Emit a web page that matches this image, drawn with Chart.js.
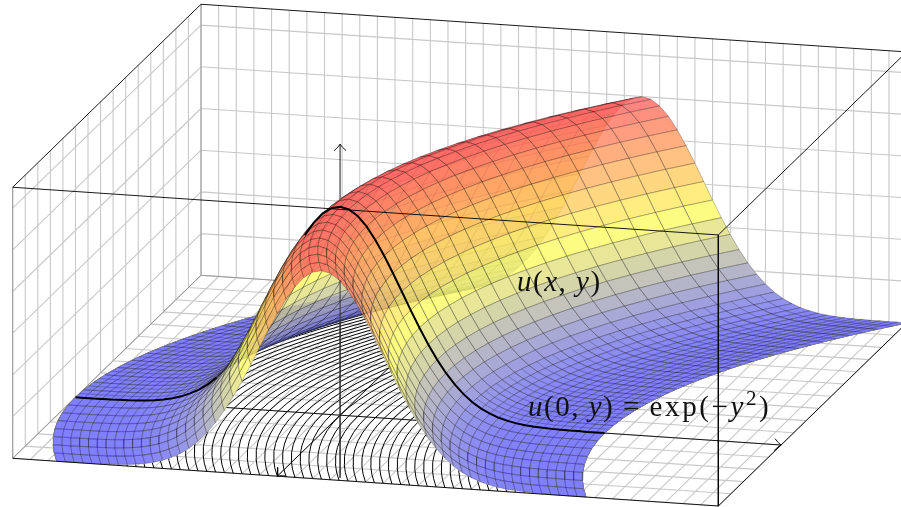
<!DOCTYPE html>
<html>
<head>
<meta charset="utf-8">
<title>u(x,y)</title>
<script src="https://cdn.jsdelivr.net/npm/chart.js@4"></script>
<style>
  html, body { margin: 0; background: #fff; }
  #wrap { position: relative; width: 901px; height: 507px; overflow: hidden; }
  canvas { display: block; }
  .label { position: absolute; font-family: "Liberation Serif", serif; font-size: 29px; line-height: 32px; color: #111; white-space: nowrap; letter-spacing: 1.5px; }
  .label sup { font-size: 21px; line-height: 0; }
  .wide { letter-spacing: 2.6px; }
</style>
</head>
<body>
<div id="wrap">
  <canvas id="chart" width="901" height="507"></canvas>
  <div class="label" style="left:517px;top:265px"><i>u</i>(<i>x</i>, <i>y</i>)</div>
  <div class="label" style="left:528px;top:390px"><i>u</i>(0, <i>y</i>) = <span class="wide">exp(−<i>y</i><sup>2</sup>)</span></div>
</div>
<script>
// mesh rows (x) and how far the ridge has moved sideways on each row
const rowX = [-1, -0.875, -0.75, -0.625, -0.5, -0.375, -0.25, -0.125, 0, 0.125, 0.25, 0.375, 0.5, 0.625, 0.75, 0.875, 1, 1.125, 1.25, 1.375, 1.5, 1.625, 1.75, 1.875, 2];
const rowShift = [0.5, 0.383, 0.281, 0.195, 0.125, 0.07, 0.031, 0.008, 0, 0.008, 0.031, 0.07, 0.125, 0.195, 0.281, 0.383, 0.5, 0.633, 0.781, 0.945, 1.125, 1.32, 1.531, 1.758, 2];

// the tighter rows seen on the low flanks behind x = 0
const fineRowX = [0.0625, 0.1875, 0.3125, 0.4375, 0.5625, 0.6875, 0.8125, 0.9375, 1.0625, 1.1875, 1.3125, 1.4375, 1.5625, 1.6875, 1.8125, 1.9375];
const fineRowShift = [0.002, 0.018, 0.049, 0.096, 0.158, 0.236, 0.33, 0.439, 0.564, 0.705, 0.861, 1.033, 1.221, 1.424, 1.643, 1.877];
const fineRowFromY = 1.5;

// mesh columns (y at x = 0) and the height
const colY = [-3, -2.9, -2.8, -2.7, -2.6, -2.5, -2.4, -2.3, -2.2, -2.1, -2, -1.9, -1.8, -1.7, -1.6, -1.5, -1.4, -1.3, -1.2, -1.1, -1, -0.9, -0.8, -0.7, -0.6, -0.5, -0.4, -0.3, -0.2, -0.1, 0, 0.1, 0.2, 0.3, 0.4, 0.5, 0.6, 0.7, 0.8, 0.9, 1, 1.1, 1.2, 1.3, 1.4, 1.5, 1.6, 1.7, 1.8, 1.9, 2, 2.1, 2.2, 2.3, 2.4, 2.5, 2.6, 2.7, 2.8, 2.9, 3];
const colU = [0, 0, 0, 0.001, 0.001, 0.002, 0.003, 0.005, 0.008, 0.012, 0.018, 0.027, 0.039, 0.056, 0.077, 0.105, 0.141, 0.185, 0.237, 0.298, 0.368, 0.445, 0.527, 0.613, 0.698, 0.779, 0.852, 0.914, 0.961, 0.99, 1, 0.99, 0.961, 0.914, 0.852, 0.779, 0.698, 0.613, 0.527, 0.445, 0.368, 0.298, 0.237, 0.185, 0.141, 0.105, 0.077, 0.056, 0.039, 0.027, 0.018, 0.012, 0.008, 0.005, 0.003, 0.002, 0.001, 0.001, 0, 0, 0];
// part of the bold curve that the near wall of the arch covers
const boldHidden = [-1.4, -0.45];

// box grid
const xTicks = [-1, -0.8, -0.6, -0.4, -0.2, 0, 0.2, 0.4, 0.6, 0.8, 1, 1.2, 1.4, 1.6, 1.8, 2];
const yTicks = [-3, -2.8, -2.6, -2.4, -2.2, -2, -1.8, -1.6, -1.4, -1.2, -1, -0.8, -0.6, -0.4, -0.2, 0, 0.2, 0.4, 0.6, 0.8, 1, 1.2, 1.4, 1.6, 1.8, 2, 2.2, 2.4, 2.6, 2.8, 3, 3.2, 3.4, 3.6, 3.8, 4, 4.2, 4.4, 4.6, 4.8, 5];
const zTicks = [0, 0.2, 0.4, 0.6, 0.8, 1, 1.2];
const xRange = [-1, 2];
const yRange = [-3, 5];
const zRange = [0, 1.3];
const zAxisRange = [-0.3, 1.3];
const zAxisOpenTop = 0.648;

// view of the box: where its left front corner sits and where the three edges go
const view = { ox: 12.7, oy: 458.3, xdx: 188.3, xdy: -183, ydx: 705.6, ydy: 47.7, zPerUnit: 208.5 };

const GAP = { x: NaN, y: NaN };

function project(x, y, z) {
  const s = (x - xRange[0]) / (xRange[1] - xRange[0]);
  const t = (y - yRange[0]) / (yRange[1] - yRange[0]);
  return {
    x: view.ox + s * view.xdx + t * view.ydx,
    y: view.oy + s * view.xdy + t * view.ydy - z * view.zPerUnit
  };
}

function lineSet(points, color, width) {
  return { data: points, showLine: true, pointRadius: 0, borderColor: color, borderWidth: width, fill: false };
}

function joined(lines) {
  const out = [];
  for (const l of lines) out.push(...l, GAP);
  return out;
}

// blue, yellow, red; pale and fairly solid so the far side of the ridge only shows a little
function colormap(u) {
  const a = [0, 0, 255], b = [255, 255, 0], c = [255, 0, 0];
  const from = u < 0.5 ? a : b;
  const to = u < 0.5 ? b : c;
  const k = u < 0.5 ? u * 2 : (u - 0.5) * 2;
  const rgb = from.map((v, i) => Math.round((v + (to[i] - v) * k) * 0.625 + 95.6));
  return `rgba(${rgb[0]},${rgb[1]},${rgb[2]},0.8)`;
}

function quad(i, j) {
  const corner = (r, c) => project(rowX[r], colY[c] + rowShift[r], colU[c]);
  return [corner(i, j), corner(i + 1, j), corner(i + 1, j + 1), corner(i, j + 1), corner(i, j)];
}

function arrowHead(tip, dirX, dirY) {
  const barb = side => {
    const nx = -dirY * side, ny = dirX * side;
    return [
      { x: tip.x - dirX * 6.5 + nx * 6, y: tip.y - dirY * 6.5 + ny * 6 },
      { x: tip.x - dirX * 3 + nx * 2.2, y: tip.y - dirY * 3 + ny * 2.2 },
      tip
    ];
  };
  return joined([barb(1), barb(-1)]);
}

function gridLines() {
  const lines = [];
  for (const x of xTicks) {
    lines.push([project(x, yRange[0], 0), project(x, yRange[1], 0)]);
    lines.push([project(x, yRange[0], zRange[0]), project(x, yRange[0], zRange[1])]);
  }
  for (const y of yTicks) {
    lines.push([project(xRange[0], y, 0), project(xRange[1], y, 0)]);
    lines.push([project(xRange[1], y, zRange[0]), project(xRange[1], y, zRange[1])]);
  }
  for (const z of zTicks) {
    lines.push([project(xRange[0], yRange[0], z), project(xRange[1], yRange[0], z)]);
    lines.push([project(xRange[1], yRange[0], z), project(xRange[1], yRange[1], z)]);
  }
  return joined(lines);
}

function floorCurves() {
  return joined(colY.map(y0 => rowX.map((x, i) => project(x, y0 + rowShift[i], 0))));
}

function boldCurve() {
  return colY.map((y, j) => (y > boldHidden[0] && y < boldHidden[1] ? GAP : project(0, y, colU[j])));
}

function buildDatasets() {
  const [x0, x1] = xRange, [y0, y1] = yRange, [z0, z1] = zRange;
  const sets = [];

  sets.push(lineSet(gridLines(), '#c8c8c8', 1.1));
  sets.push(lineSet(joined([
    [project(x1, y0, z0), project(x1, y0, z1)],
    [project(x0, y0, z0), project(x0, y0, z1)],
    [project(x0, y0, z0), project(x1, y0, z0)],
    [project(x1, y0, z0), project(x1, y1, z0)]
  ]), '#999', 1));
  sets.push(lineSet(joined([
    [project(x0, y0, z1), project(x1, y0, z1), project(x1, y1, z1)]
  ]), '#000', 0.9));

  sets.push(lineSet(floorCurves(), '#000', 1));

  const zTip = project(0, 0, zAxisRange[1]);
  const xTip = project(xRange[0], 0, 0);
  const yTip = project(0, yRange[1], 0);
  sets.push(lineSet(joined([
    [project(xRange[1], 0, 0), xTip],
    [project(0, yRange[0], 0), yTip],
    [project(0, 0, zAxisRange[0]), zTip]
  ]), '#000', 0.9));
  sets.push(lineSet(arrowHead(zTip, 0, -1), '#000', 0.9));
  sets.push(lineSet(arrowHead(xTip, -0.717, 0.697), '#000', 0.9));
  sets.push(lineSet(arrowHead(yTip, 0.998, 0.067), '#000', 0.9));

  // white sheet under the surface, hides grid and axes behind it
  const under = [];
  for (let j = 0; j < colY.length - 1; j++) {
    for (let i = 0; i < rowX.length - 1; i++) under.push(...quad(i, j), GAP);
  }
  sets.push({ data: under, showLine: true, pointRadius: 0, borderColor: '#fff', borderWidth: 0.5, backgroundColor: '#fff', fill: 'shape' });

  // one set per colour band, far rows first
  for (let j = 0; j < colY.length - 1; j++) {
    const pts = [];
    for (let i = rowX.length - 2; i >= 0; i--) pts.push(...quad(i, j), GAP);
    if (Math.abs(colY[j]) >= fineRowFromY && Math.abs(colY[j + 1]) >= fineRowFromY) {
      fineRowX.forEach((x, r) => {
        pts.push(project(x, colY[j] + fineRowShift[r], colU[j]), project(x, colY[j + 1] + fineRowShift[r], colU[j + 1]), GAP);
      });
    }
    sets.push({
      data: pts,
      showLine: true,
      pointRadius: 0,
      borderColor: 'rgba(0,0,0,0.34)',
      borderWidth: 0.7,
      backgroundColor: colormap((colU[j] + colU[j + 1]) / 2),
      fill: 'shape'
    });
  }

  sets.push(lineSet(joined([[project(0, 0, zAxisRange[0]), project(0, 0, zAxisOpenTop)]]), '#333', 1));
  sets.push(lineSet(boldCurve(), '#000', 2));
  sets.push(lineSet(joined([
    [project(x0, y0, z1), project(x0, y1, z1), project(x1, y1, z1)],
    [project(x0, y1, z1), project(x0, y1, z0)],
    [project(x0, y0, z0), project(x0, y1, z0), project(x1, y1, z0), project(x1, y1, z1)]
  ]), '#000', 0.9));

  // Chart.js paints the first dataset last
  return sets.reverse();
}

new Chart(document.getElementById('chart'), {
  type: 'scatter',
  data: { datasets: buildDatasets() },
  options: {
    responsive: false,
    animation: false,
    events: [],
    layout: { padding: 0 },
    plugins: { legend: { display: false }, tooltip: { enabled: false } },
    scales: {
      x: { type: 'linear', display: false, min: 0, max: 901 },
      y: { type: 'linear', display: false, min: 0, max: 507, reverse: true }
    }
  }
});
</script>
</body>
</html>
